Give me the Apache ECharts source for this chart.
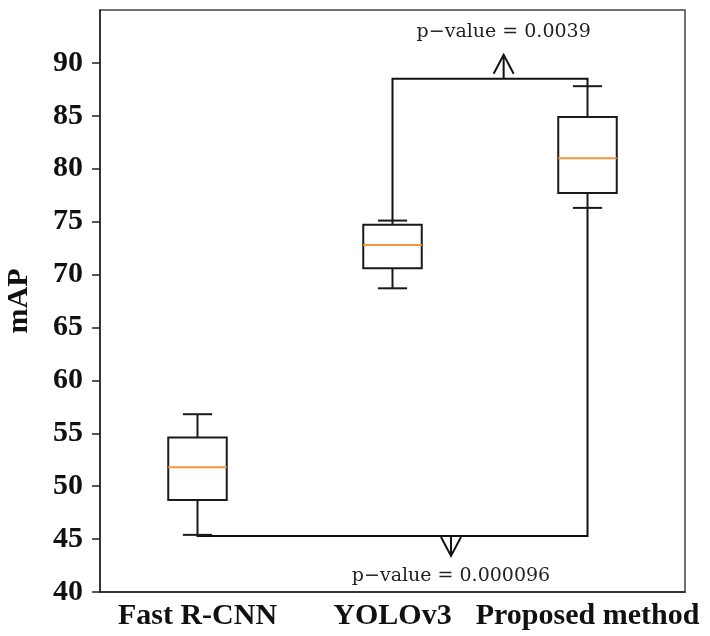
<!DOCTYPE html>
<html lang="en">
<head>
    <meta charset="UTF-8">
    <title>mAP boxplot</title>
    <script src="https://cdn.jsdelivr.net/npm/echarts@6/dist/echarts.min.js"></script>
    <style>
        html, body { margin: 0; padding: 0; background: #fff; }
    </style>
</head>
<body>
<div id="myDiv" style="width: 710px;height: 636px"></div>

<script>
    // categories on the x axis
    const categories = ['Fast R-CNN', 'YOLOv3', 'Proposed method'];
    // box stats: [lower whisker, Q1, median, Q3, upper whisker]
    const fastRcnn = [45.4, 48.7, 51.8, 54.6, 56.8];
    const yolov3 = [68.7, 70.6, 72.8, 74.7, 75.1];
    const proposed = [76.3, 77.7, 81.0, 84.9, 87.8];
    const boxStats = [fastRcnn, yolov3, proposed];
    // y tick labels
    const yTicks = [40, 45, 50, 55, 60, 65, 70, 75, 80, 85, 90];
    // significance brackets: which boxes, at which mAP level, and label
    const bracketPairs = [[1, 2], [0, 2]];
    const bracketLevels = [88.5, 45.3];
    const pLabels = ['p\u2212value = 0.0039', 'p\u2212value = 0.000096'];

    const serifBold = '"Liberation Serif", "Times New Roman", serif';

    let mainChart = echarts.init(document.getElementById('myDiv'));

    // matplotlib-like box: half-width caps, orange median
    function renderBox(params, api) {
        let i = api.value(0);
        let band = api.size([1, 0])[0];
        let boxW = band * 0.3;
        let capW = boxW / 2;
        let pLo = api.coord([i, api.value(1)]);
        let pQ1 = api.coord([i, api.value(2)]);
        let pMed = api.coord([i, api.value(3)]);
        let pQ3 = api.coord([i, api.value(4)]);
        let pHi = api.coord([i, api.value(5)]);
        let cx = pMed[0];
        let line = {stroke: '#1a1a1a', lineWidth: 2, fill: null};
        return {
            type: 'group',
            children: [
                {type: 'line', shape: {x1: cx, y1: pQ1[1], x2: cx, y2: pLo[1]}, style: line},
                {type: 'line', shape: {x1: cx, y1: pQ3[1], x2: cx, y2: pHi[1]}, style: line},
                {type: 'line', shape: {x1: cx - capW / 2, y1: pLo[1], x2: cx + capW / 2, y2: pLo[1]}, style: line},
                {type: 'line', shape: {x1: cx - capW / 2, y1: pHi[1], x2: cx + capW / 2, y2: pHi[1]}, style: line},
                {type: 'rect', shape: {x: cx - boxW / 2, y: pQ3[1], width: boxW, height: pQ1[1] - pQ3[1]}, style: line},
                {type: 'line', shape: {x1: cx - boxW / 2, y1: pMed[1], x2: cx + boxW / 2, y2: pMed[1]}, style: {stroke: '#f7953f', lineWidth: 2}}
            ]
        };
    }

    // where the arrow sits along each bracket, and its length
    const arrowAt = [0.57, 0.65];
    const arrowLen = [24, 20];
    const labelGap = [23, 20];

    function renderBracket(params, api) {
        let k = params.dataIndex;
        let a = api.value(0), b = api.value(1), level = api.value(2);
        let up = level > boxStats[a][4];
        let endA = up ? boxStats[a][4] : boxStats[a][0];
        let endB = up ? boxStats[b][4] : boxStats[b][0];
        let pA = api.coord([a, endA]);
        let pB = api.coord([b, endB]);
        let y = api.coord([a, level])[1];
        let line = {stroke: '#111', lineWidth: 2, fill: null};
        let ax = pA[0] + (pB[0] - pA[0]) * arrowAt[k];
        let dir = up ? -1 : 1;
        let tipY = y + dir * arrowLen[k];
        let headY = tipY - dir * 19;
        return {
            type: 'group',
            children: [
                {type: 'polyline', shape: {points: [[pA[0], pA[1]], [pA[0], y], [pB[0], y], [pB[0], pB[1]]]}, style: line},
                {type: 'line', shape: {x1: ax, y1: y, x2: ax, y2: tipY}, style: line},
                {type: 'polyline', shape: {points: [[ax - 10, headY], [ax, tipY], [ax + 10, headY]]}, style: line},
                {
                    type: 'text',
                    style: {
                        text: pLabels[k],
                        x: ax,
                        y: tipY + dir * labelGap[k],
                        align: 'center',
                        verticalAlign: 'middle',
                        font: '19px "DejaVu Serif", serif',
                        fill: '#222'
                    }
                }
            ]
        };
    }

    var option = {
        animation: false,
        backgroundColor: '#fff',
        grid: {
            left: 100, right: 25, top: 10, bottom: 44,
            show: true,
            borderColor: '#444',
            borderWidth: 1.5,
            containLabel: false,
            outerBoundsMode: 'none'
        },
        xAxis: {
            type: 'category',
            data: categories,
            boundaryGap: true,
            axisLine: {lineStyle: {color: '#222', width: 1.5}},
            axisTick: {alignWithLabel: true, length: 7, lineStyle: {color: '#222', width: 1.5}},
            axisLabel: {
                color: '#111',
                fontFamily: serifBold,
                fontWeight: 'bold',
                fontSize: 30,
                margin: 9,
                interval: 0
            },
            splitLine: {show: false}
        },
        yAxis: {
            type: 'value',
            min: 40,
            max: 95,
            interval: 5,
            name: 'mAP',
            nameLocation: 'middle',
            nameGap: 66,
            nameTextStyle: {
                color: '#111',
                fontFamily: serifBold,
                fontWeight: 'bold',
                fontSize: 30
            },
            axisLine: {show: true, lineStyle: {color: '#222', width: 1.5}},
            axisTick: {show: true, length: 8, customValues: yTicks, lineStyle: {color: '#222', width: 1.5}},
            axisLabel: {
                customValues: yTicks,
                color: '#111',
                fontFamily: serifBold,
                fontWeight: 'bold',
                fontSize: 30,
                margin: 17
            },
            splitLine: {show: false}
        },
        series: [
            {
                type: 'custom',
                renderItem: renderBox,
                encode: {x: 0, y: [1, 2, 3, 4, 5]},
                data: boxStats.map((s, i) => [i].concat(s)),
                z: 3
            },
            {
                type: 'custom',
                renderItem: renderBracket,
                encode: {x: [0, 1], y: 2},
                data: bracketPairs.map((p, i) => [p[0], p[1], bracketLevels[i]]),
                z: 2
            }
        ]
    };
    mainChart.setOption(option);
</script>
</body>
</html>
